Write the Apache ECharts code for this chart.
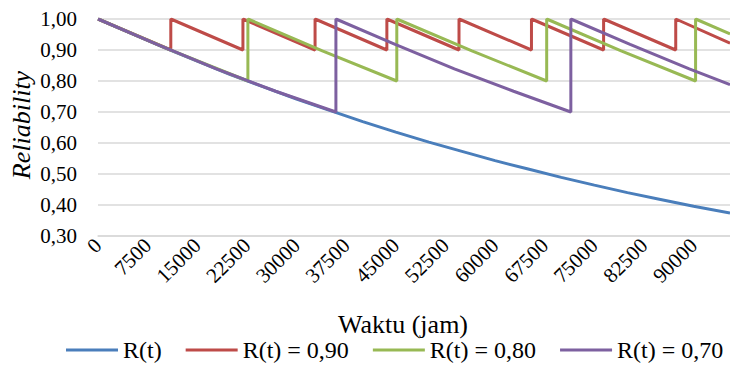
<!DOCTYPE html>
<html>
<head>
<meta charset="utf-8">
<script src="https://cdn.jsdelivr.net/npm/echarts@6/dist/echarts.min.js"></script>
<style>
html,body{margin:0;padding:0;background:#fff;}
#chart{width:730px;height:365px;}
</style>
</head>
<body>
<div id="chart"></div>
<script>
// ---- data ----
var seriesNames = ['R(t)', 'R(t) = 0,90', 'R(t) = 0,80', 'R(t) = 0,70'];
// base reliability curve
var baseT = [0, 5000, 10000, 15000, 20000, 25000, 30000, 35000, 40000, 45000, 50000, 55000, 60000, 65000, 70000, 75000, 80000, 85000, 90000, 95500];
var baseR = [1.00, 0.954, 0.908, 0.864, 0.821, 0.781, 0.742, 0.705, 0.669, 0.635, 0.603, 0.573, 0.543, 0.516, 0.489, 0.464, 0.440, 0.418, 0.396, 0.374];
// preventive maintenance at R = 0.90
var redT = [0, 11000, 11000, 21900, 21900, 32800, 32800, 43650, 43650, 54550, 54550, 65500, 65500, 76400, 76400, 87300, 87300, 95500];
var redR = [1.00, 0.90, 1.00, 0.90, 1.00, 0.90, 1.00, 0.90, 1.00, 0.90, 1.00, 0.90, 1.00, 0.90, 1.00, 0.90, 1.00, 0.922];
// preventive maintenance at R = 0.80
var greenT = [0, 11300, 22650, 22650, 33900, 45150, 45150, 56500, 67800, 67800, 79050, 90300, 90300, 95500];
var greenR = [1.00, 0.897, 0.80, 1.00, 0.897, 0.80, 1.00, 0.897, 0.80, 1.00, 0.897, 0.80, 1.00, 0.952];
// preventive maintenance at R = 0.70
var purpleT = [0, 8950, 17900, 26850, 35950, 35950, 44900, 53850, 62800, 71450, 71450, 80400, 89350, 95500];
var purpleR = [1.00, 0.918, 0.839, 0.767, 0.70, 1.00, 0.918, 0.839, 0.767, 0.70, 1.00, 0.918, 0.839, 0.788];
var xTickStep = 7500;
var yTicks = [0.30, 0.40, 0.50, 0.60, 0.70, 0.80, 0.90, 1.00];

function pairs(ts, rs) { return ts.map(function (t, i) { return [t, rs[i]]; }); }

var colors = ['#4A7EBB', '#BE4B48', '#98B954', '#7D60A0'];
var font = "'Liberation Serif', 'Times New Roman', serif";

var chart = echarts.init(document.getElementById('chart'), null, {renderer: 'svg'});
var option = {
  animation: false,
  backgroundColor: '#fff',
  color: colors,
  grid: {left: 98, top: 19, right: 0, bottom: 129, containLabel: false},
  xAxis: {
    type: 'value', min: 0, max: baseT[baseT.length - 1], interval: xTickStep,
    axisLine: {show: true, lineStyle: {color: '#D9D9D9', width: 1.5}},
    axisTick: {show: false},
    splitLine: {show: false},
    axisLabel: {rotate: 45, margin: 6, color: '#000', fontFamily: font, fontSize: 21, showMaxLabel: false,
      formatter: function (v) { return String(Math.round(v)); }}
  },
  yAxis: {
    type: 'value', min: yTicks[0], max: yTicks[yTicks.length - 1], interval: 0.1,
    axisLine: {show: false}, axisTick: {show: false},
    splitLine: {lineStyle: {color: '#D9D9D9', width: 1.5}},
    axisLabel: {margin: 21, color: '#000', fontFamily: font, fontSize: 21,
      formatter: function (v) { return v.toFixed(2).replace('.', ','); }}
  },
  legend: {
    top: 338, left: 66, padding: 0, icon: 'rect', itemWidth: 52, itemHeight: 3, itemGap: 24,
    textStyle: {color: '#000', fontFamily: font, fontSize: 24},
    data: seriesNames
  },
  graphic: [
    {type: 'text', x: 403, y: 324, silent: true,
     style: {text: 'Waktu (jam)', fill: '#000', fontFamily: font, fontSize: 26, textAlign: 'center', textVerticalAlign: 'middle'}},
    {type: 'text', x: 21, y: 125, rotation: Math.PI / 2, silent: true,
     style: {text: 'Reliability', fill: '#000', fontFamily: font, fontStyle: 'italic', fontSize: 26, textAlign: 'center', textVerticalAlign: 'middle'}}
  ],
  series: [
    {name: seriesNames[0], type: 'line', symbol: 'none', data: pairs(baseT, baseR), lineStyle: {width: 3}},
    {name: seriesNames[1], type: 'line', symbol: 'none', data: pairs(redT, redR), lineStyle: {width: 3}},
    {name: seriesNames[2], type: 'line', symbol: 'none', data: pairs(greenT, greenR), lineStyle: {width: 3}},
    {name: seriesNames[3], type: 'line', symbol: 'none', data: pairs(purpleT, purpleR), lineStyle: {width: 3}}
  ]
};
chart.setOption(option);
</script>
</body>
</html>
